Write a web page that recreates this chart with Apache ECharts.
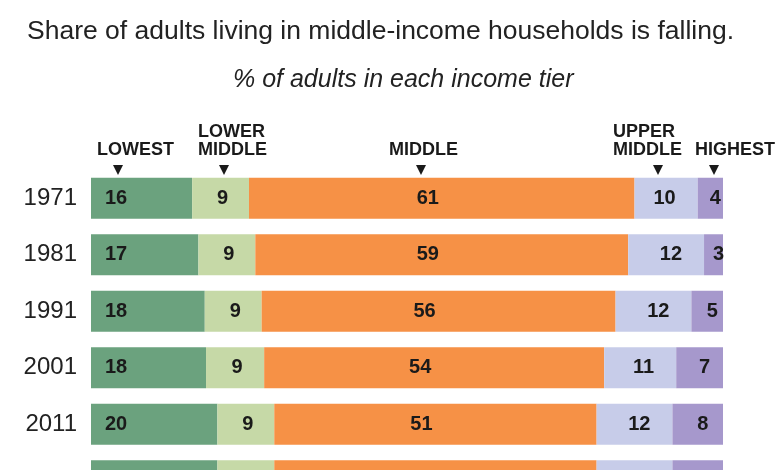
<!DOCTYPE html>
<html>
<head>
<meta charset="utf-8">
<script src="https://cdn.jsdelivr.net/npm/echarts@6/dist/echarts.min.js"></script>
<style>
html,body{margin:0;padding:0;background:#fff;overflow:hidden;}
#chart{width:780px;height:520px;}
</style>
</head>
<body>
<div id="chart"></div>
<script>
var years = ['1971', '1981', '1991', '2001', '2011', '2016'];
var tiers = ['LOWEST', 'LOWER MIDDLE', 'MIDDLE', 'UPPER MIDDLE', 'HIGHEST'];
// shares in % (2001 read with one decimal so the bar reaches 100 while labels round as printed)
var lowest      = [16, 17, 18, 18.2, 20, 20];
var lowerMiddle = [9, 9, 9, 9.2, 9, 9];
var middle      = [61, 59, 56, 53.8, 51, 51];
var upperMiddle = [10, 12, 12, 11.4, 12, 12];
var highest     = [4, 3, 5, 7.4, 8, 8];
var headerLines = [['LOWEST'], ['LOWER', 'MIDDLE'], ['MIDDLE'], ['UPPER', 'MIDDLE'], ['HIGHEST']];

var colors = ['#6ba27e', '#c6d9a7', '#f69146', '#c7cce9', '#a698cc'];
var FONT = "'Liberation Sans', Arial, sans-serif";

var chart = echarts.init(document.getElementById('chart'), null, {renderer: 'canvas'});

var labelBase = {
  show: true, color: '#1a1a1a', fontFamily: FONT, fontWeight: 'bold', fontSize: 20,
  formatter: function (p) { return Math.round(p.value); }
};
var labelCfg = [
  Object.assign({}, labelBase, {position: 'insideLeft', distance: 14}),
  Object.assign({}, labelBase, {position: 'inside', offset: [2, 0]}),
  Object.assign({}, labelBase, {position: 'inside', offset: [-14, 0]}),
  Object.assign({}, labelBase, {position: 'insideRight', distance: 22}),
  Object.assign({}, labelBase, {position: 'inside', offset: [5, 0]})
];
var seriesData = [lowest, lowerMiddle, middle, upperMiddle, highest];

var series = tiers.map(function (name, i) {
  return {
    name: name,
    type: 'bar',
    stack: 'total',
    barWidth: 41,
    data: seriesData[i],
    itemStyle: {color: colors[i]},
    label: labelCfg[i],
    emphasis: {disabled: true},
    silent: true
  };
});

// header positions (left x of header text, x of arrow)
var headerX = [97, 198, 389, 613, 695];
var arrowX = [118, 224, 421, 658, 714];
var graphics = [];
headerLines.forEach(function (lines, i) {
  lines.forEach(function (ln, j) {
    var y = (lines.length === 2 && j === 0) ? 132.5 : 150.5;
    graphics.push({
      type: 'text', left: headerX[i], top: y - 9,
      style: {text: ln, font: 'bold 18px ' + FONT, fill: '#1a1a1a'}
    });
  });
  graphics.push({
    type: 'polygon',
    shape: {points: [[arrowX[i] - 5, 165], [arrowX[i] + 5, 165], [arrowX[i], 175]]},
    style: {fill: '#1a1a1a'}
  });
});

chart.setOption({
  animation: false,
  backgroundColor: '#fff',
  title: [
    {
      text: 'Share of adults living in middle-income households is falling.',
      left: 22, top: 13,
      textStyle: {fontFamily: FONT, fontWeight: 'normal', fontSize: 26.5, color: '#222'}
    },
    {
      text: '% of adults in each income tier',
      left: 228, top: 63,
      textStyle: {fontFamily: FONT, fontStyle: 'italic', fontWeight: 'normal', fontSize: 25, color: '#222'}
    }
  ],
  grid: {left: 91, right: 57, top: 170, bottom: 11, containLabel: false},
  xAxis: {type: 'value', min: 0, max: 100, show: false},
  yAxis: {
    type: 'category', data: years, inverse: true,
    axisLine: {show: false}, axisTick: {show: false},
    axisLabel: {fontFamily: FONT, fontSize: 24, color: '#222', margin: 14}
  },
  graphic: graphics,
  series: series
});
</script>
</body>
</html>
